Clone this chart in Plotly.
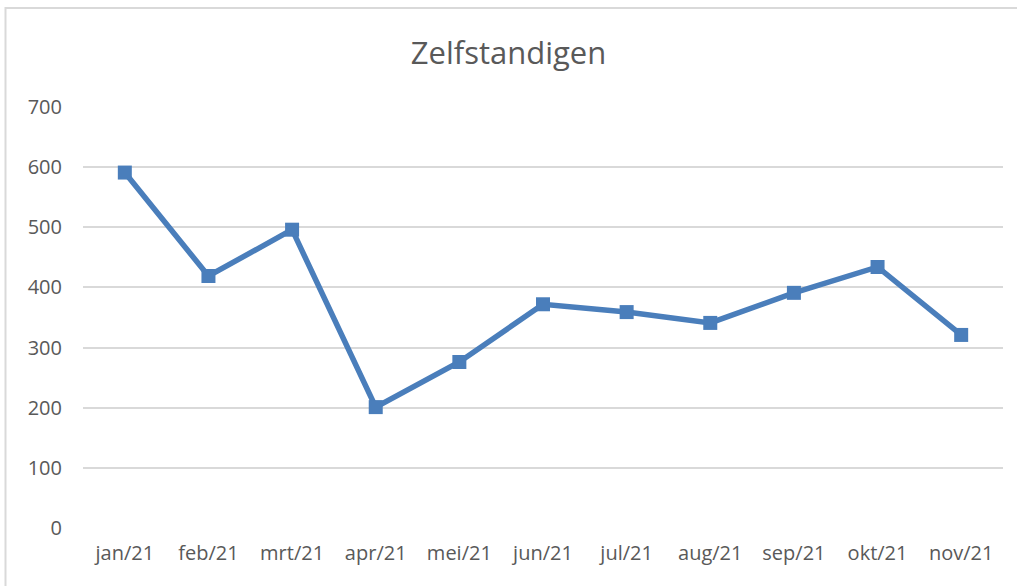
import plotly.graph_objects as go

months = ["jan/21", "feb/21", "mrt/21", "apr/21", "mei/21", "jun/21",
          "jul/21", "aug/21", "sep/21", "okt/21", "nov/21"]
values = [591, 419, 496, 201, 276, 372, 359, 341, 391, 434, 321]
y_ticks = [0, 100, 200, 300, 400, 500, 600, 700]

W, H = 1017, 586
ml, mr, mt, mb = 83, 14, 107, 58
pw, ph = W - ml - mr, H - mt - mb
FONT = "'Open Sans', Lato, sans-serif"

fig = go.Figure()
fig.add_trace(go.Scatter(
    x=months, y=values, mode="lines+markers",
    line=dict(color="#4A7EBB", width=5.5),
    marker=dict(symbol="square", size=14, color="#4A7EBB"),
    hoverinfo="x+y",
))

fig.update_layout(
    width=W, height=H,
    margin=dict(l=ml, r=mr, t=mt, b=mb),
    paper_bgcolor="white", plot_bgcolor="white",
    font=dict(family=FONT, color="#595959", size=20),
    title=dict(text="Zelfstandigen", x=0.5, xanchor="center", y=1 - 53 / H, yanchor="middle",
               font=dict(size=31, color="#595959", family=FONT)),
    showlegend=False,
    xaxis=dict(range=[-0.5, 10.5], showgrid=False, zeroline=False, showline=False,
               ticks="", tickfont=dict(size=20, color="#595959"), ticklabelstandoff=11),
    yaxis=dict(range=[0, 700], tickvals=y_ticks, showgrid=True, gridcolor="#D9D9D9",
               gridwidth=1.5, zeroline=False, showline=False, ticks="",
               tickfont=dict(size=20, color="#595959"), ticklabelstandoff=20),
)

# outer chart border (top/left visible)
fig.add_shape(type="rect", xref="paper", yref="paper",
              x0=(5.5 - ml) / pw, x1=(W + 10 - ml) / pw,
              y0=(mt + ph - (H + 10)) / ph, y1=(mt + ph - 8) / ph,
              line=dict(color="#D9D9D9", width=2), fillcolor="rgba(0,0,0,0)", layer="below")

fig.write_html("out.html", config={"displayModeBar": False},
               post_script="document.body.style.margin='0';document.body.style.overflow='hidden';")
